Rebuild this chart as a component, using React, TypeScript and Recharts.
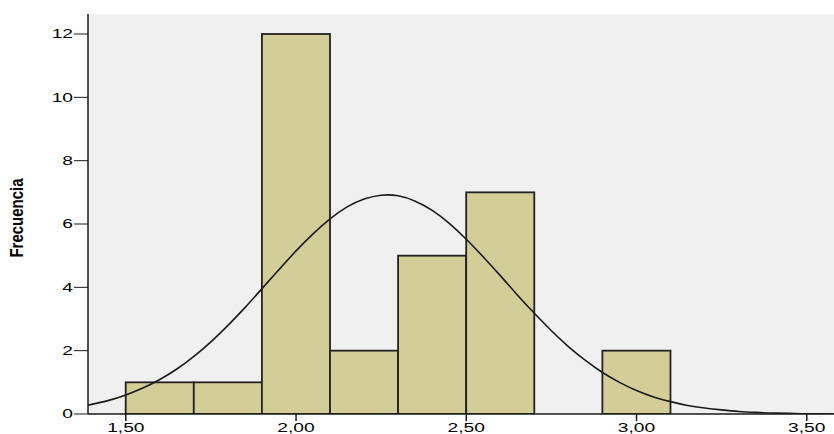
import { Bar, CartesianGrid, ComposedChart, Line, XAxis, YAxis } from "recharts"

// histogram bins (centre of each 0,20 wide bin) and their counts
const binCenters = [1.6, 1.8, 2.0, 2.2, 2.4, 2.6, 3.0]
const frequencies = [1, 1, 12, 2, 5, 7, 2]

// fitted normal curve
const curveX = [
  1.39, 1.45, 1.5, 1.55, 1.6, 1.65, 1.7, 1.75, 1.8, 1.85, 1.9, 1.95, 2.0, 2.05, 2.1, 2.15, 2.2, 2.25, 2.3, 2.35,
  2.4, 2.45, 2.5, 2.55, 2.6, 2.65, 2.7, 2.75, 2.8, 2.85, 2.9, 2.95, 3.0, 3.05, 3.1, 3.15, 3.2, 3.25, 3.3, 3.35,
  3.4, 3.45, 3.5, 3.55, 3.58,
]
const curveY = [
  0.28, 0.43, 0.6, 0.82, 1.09, 1.42, 1.82, 2.28, 2.8, 3.36, 3.96, 4.56, 5.15, 5.69, 6.16, 6.54, 6.79, 6.91, 6.89,
  6.72, 6.43, 6.02, 5.52, 4.96, 4.37, 3.76, 3.18, 2.63, 2.13, 1.69, 1.31, 1.0, 0.74, 0.54, 0.39, 0.27, 0.19, 0.13,
  0.08, 0.05, 0.03, 0.02, 0.01, 0.01, 0,
]

const xTicks = [1.5, 2.0, 2.5, 3.0, 3.5]
const yTicks = [0, 2, 4, 6, 8, 10, 12]

const data = curveX.map((x, i) => {
  const b = binCenters.findIndex((c) => Math.abs(c - x) < 1e-6)
  return { x, curve: curveY[i], freq: b >= 0 ? frequencies[b] : undefined }
})

const font = "'Liberation Sans', Arial, sans-serif"
const fmt = (v: number) => v.toFixed(2).replace(".", ",")
const BIN_PX = 68.1 // 0,20 of x-axis in pixels

const XTick = ({ x, y, payload }: any) => (
  <g transform={`translate(${x},${y})`}>
    <text transform="scale(1.6,1)" textAnchor="middle" dy="0.71em" fontSize={12} fontFamily={font} fill="#000">
      {fmt(payload.value)}
    </text>
  </g>
)

const YTick = ({ x, y, payload }: any) => (
  <g transform={`translate(${x},${y})`}>
    <text transform="scale(1.6,1)" textAnchor="end" dy="0.355em" fontSize={12} fontFamily={font} fill="#000">
      {payload.value}
    </text>
  </g>
)

const YLabel = ({ viewBox }: any) => {
  const cx = viewBox.x + 16.5
  const cy = viewBox.y + viewBox.height / 2 + 4
  return (
    <text
      transform={`translate(${cx},${cy}) scale(1.2,1) rotate(-90)`}
      textAnchor="middle"
      dy="0.355em"
      fontSize={15}
      fontWeight="bold"
      fontFamily={font}
      fill="#000"
    >
      Frecuencia
    </text>
  )
}

// widen each bar to the full bin around its centre
const BinShape = ({ x, y, width, height, fill, stroke, strokeWidth }: any) => {
  if (!height || height <= 0) return null
  const cx = x + width / 2
  return (
    <rect
      x={cx - BIN_PX / 2}
      y={y}
      width={BIN_PX}
      height={height}
      fill={fill}
      stroke={stroke}
      strokeWidth={strokeWidth}
    />
  )
}

export default function App() {
  return (
    <div style={{ position: "absolute", left: 0, top: 0, width: 834, height: 434, background: "#fff" }}>
      <ComposedChart width={834} height={434} data={data} margin={{ top: 14, right: 0, bottom: 0, left: 0 }}>
        <CartesianGrid fill="#f0f0f0" horizontal={false} vertical={false} />
        <XAxis
          dataKey="x"
          type="number"
          domain={[1.389, 3.58]}
          ticks={xTicks}
          height={20}
          tickSize={7}
          tickMargin={2}
          tick={<XTick />}
          axisLine={{ stroke: "#1a1a1a", strokeWidth: 1.5 }}
          tickLine={{ stroke: "#1a1a1a", strokeWidth: 1.5 }}
          allowDataOverflow
        />
        <XAxis
          xAxisId="top"
          orientation="top"
          dataKey="x"
          type="number"
          domain={[1.389, 3.58]}
          height={0}
          tick={false}
          tickLine={false}
          axisLine={{ stroke: "#666", strokeWidth: 1.5 }}
          allowDataOverflow
        />
        <YAxis
          type="number"
          domain={[0, 12.632]}
          ticks={yTicks}
          width={88}
          tickSize={14}
          tickMargin={1}
          tick={<YTick />}
          axisLine={{ stroke: "#1a1a1a", strokeWidth: 1.5 }}
          tickLine={{ stroke: "#1a1a1a" }}
          label={(props: any) => <YLabel {...props} />}
          allowDataOverflow
        />
        <Bar
          dataKey="freq"
          fill="#d3ce98"
          stroke="#222"
          strokeWidth={1.8}
          shape={<BinShape />}
          isAnimationActive={false}
        />
        <Line
          dataKey="curve"
          type="natural"
          stroke="#1a1a1a"
          strokeWidth={1.6}
          dot={false}
          activeDot={false}
          isAnimationActive={false}
        />
      </ComposedChart>
    </div>
  )
}
